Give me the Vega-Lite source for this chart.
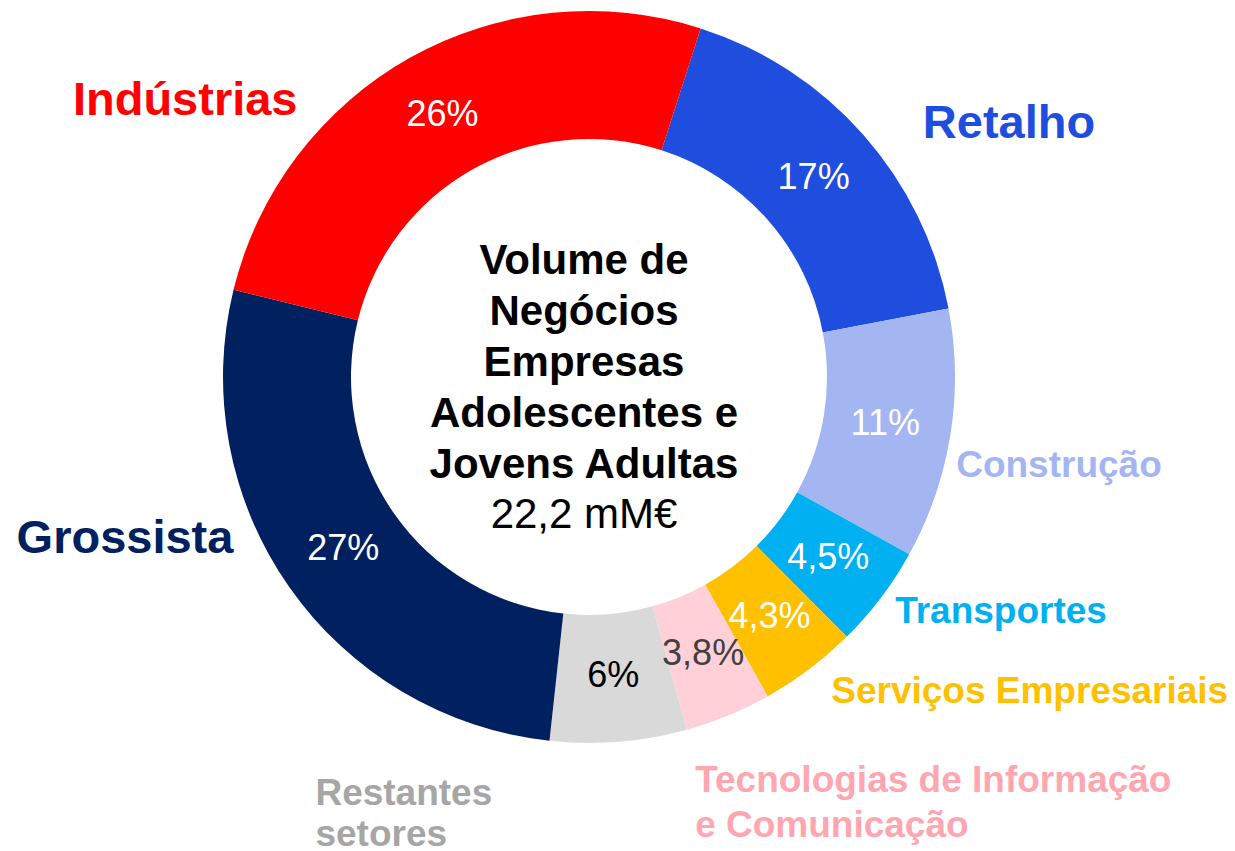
{
  "$schema": "https://vega.github.io/schema/vega-lite/v6.json",
  "width": 1178,
  "height": 754,
  "autosize": {"type": "none"},
  "padding": {"left": 0, "top": 0, "right": 57, "bottom": 97},
  "background": "white",
  "config": {
    "view": {"stroke": null},
    "font": "Liberation Sans",
    "locale": {"number": {"decimal": ",", "thousands": ".", "grouping": [3], "currency": ["", "€"]}}
  },
  "data": {
    "values": [
      {"idx": 1, "sector": "Retalho", "share": 0.17},
      {"idx": 2, "sector": "Construção", "share": 0.11},
      {"idx": 3, "sector": "Transportes", "share": 0.045},
      {"idx": 4, "sector": "Serviços Empresariais", "share": 0.043},
      {"idx": 5, "sector": "Tecnologias de Informação\ne Comunicação", "share": 0.038},
      {"idx": 6, "sector": "Restantes\nsetores", "share": 0.06},
      {"idx": 7, "sector": "Grossista", "share": 0.27},
      {"idx": 8, "sector": "Indústrias", "share": 0.26}
    ]
  },
  "layer": [
    {
      "mark": {"type": "arc", "radius": 366, "innerRadius": 238},
      "encoding": {
        "theta": {"field": "share", "type": "quantitative", "stack": true, "scale": {"range": [0.31, 6.5932]}},
        "order": {"field": "idx", "type": "quantitative"},
        "color": {
          "field": "sector", "type": "nominal", "legend": null,
          "scale": {
            "domain": ["Retalho", "Construção", "Transportes", "Serviços Empresariais", "Tecnologias de Informação\ne Comunicação", "Restantes\nsetores", "Grossista", "Indústrias"],
            "range": ["#1F4EDF", "#A3B6F2", "#00B0F0", "#FFC000", "#FFD0D8", "#D9D9D9", "#002060", "#FF0000"]
          }
        }
      }
    },
    {
      "mark": {"type": "text", "radius": 300, "fontSize": 36, "font": "Liberation Sans", "align": "center", "baseline": "middle"},
      "encoding": {
        "theta": {"field": "share", "type": "quantitative", "stack": true, "scale": {"range": [0.31, 6.5932]}},
        "order": {"field": "idx", "type": "quantitative"},
        "text": {"field": "share", "type": "quantitative", "format": ".1~%"},
        "color": {"condition": [{"test": "datum.idx === 6", "value": "#000000"}, {"test": "datum.idx === 5", "value": "#404040"}], "value": "#FFFFFF"}
      }
    },
    {
      "mark": {"type": "text", "radius": 400, "fontSize": 47, "fontWeight": "bold", "font": "Liberation Sans", "align": "center", "baseline": "alphabetic", "dx": 120.5, "dy": 26, "color": "#1F4EDF"},
      "encoding": {
        "theta": {"field": "share", "type": "quantitative", "stack": true, "scale": {"range": [0.31, 6.5932]}},
        "order": {"field": "idx", "type": "quantitative"},
        "text": {"condition": {"test": "datum.idx === 1", "field": "sector"}, "value": ""}
      }
    },
    {
      "mark": {"type": "text", "radius": 400, "fontSize": 37, "fontWeight": "bold", "font": "Liberation Sans", "align": "center", "baseline": "alphabetic", "dx": 75, "dy": 37, "color": "#A3B6F2"},
      "encoding": {
        "theta": {"field": "share", "type": "quantitative", "stack": true, "scale": {"range": [0.31, 6.5932]}},
        "order": {"field": "idx", "type": "quantitative"},
        "text": {"condition": {"test": "datum.idx === 2", "field": "sector"}, "value": ""}
      }
    },
    {
      "mark": {"type": "text", "radius": 400, "fontSize": 37, "fontWeight": "bold", "font": "Liberation Sans", "align": "center", "baseline": "alphabetic", "dx": 93, "dy": 5, "color": "#00B0F0"},
      "encoding": {
        "theta": {"field": "share", "type": "quantitative", "stack": true, "scale": {"range": [0.31, 6.5932]}},
        "order": {"field": "idx", "type": "quantitative"},
        "text": {"condition": {"test": "datum.idx === 3", "field": "sector"}, "value": ""}
      }
    },
    {
      "mark": {"type": "text", "radius": 400, "fontSize": 37, "fontWeight": "bold", "font": "Liberation Sans", "align": "center", "baseline": "alphabetic", "dx": 200, "dy": 7, "color": "#FFC000"},
      "encoding": {
        "theta": {"field": "share", "type": "quantitative", "stack": true, "scale": {"range": [0.31, 6.5932]}},
        "order": {"field": "idx", "type": "quantitative"},
        "text": {"condition": {"test": "datum.idx === 4", "field": "sector"}, "value": ""}
      }
    },
    {
      "mark": {"type": "text", "radius": 400, "fontSize": 37, "fontWeight": "bold", "font": "Liberation Sans", "align": "left", "baseline": "alphabetic", "dx": -46, "dy": 45, "lineBreak": "\n", "lineHeight": 45, "color": "#FFA6B1"},
      "encoding": {
        "theta": {"field": "share", "type": "quantitative", "stack": true, "scale": {"range": [0.31, 6.5932]}},
        "order": {"field": "idx", "type": "quantitative"},
        "text": {"condition": {"test": "datum.idx === 5", "field": "sector"}, "value": ""}
      }
    },
    {
      "mark": {"type": "text", "radius": 400, "fontSize": 37, "fontWeight": "bold", "font": "Liberation Sans", "align": "left", "baseline": "alphabetic", "dx": -306, "dy": 29, "lineBreak": "\n", "lineHeight": 41, "color": "#A6A6A6"},
      "encoding": {
        "theta": {"field": "share", "type": "quantitative", "stack": true, "scale": {"range": [0.31, 6.5932]}},
        "order": {"field": "idx", "type": "quantitative"},
        "text": {"condition": {"test": "datum.idx === 6", "field": "sector"}, "value": ""}
      }
    },
    {
      "mark": {"type": "text", "radius": 400, "fontSize": 47, "fontWeight": "bold", "font": "Liberation Sans", "align": "center", "baseline": "alphabetic", "dx": -136.4, "dy": -53.4, "color": "#002060"},
      "encoding": {
        "theta": {"field": "share", "type": "quantitative", "stack": true, "scale": {"range": [0.31, 6.5932]}},
        "order": {"field": "idx", "type": "quantitative"},
        "text": {"condition": {"test": "datum.idx === 7", "field": "sector"}, "value": ""}
      }
    },
    {
      "mark": {"type": "text", "radius": 400, "fontSize": 47, "fontWeight": "bold", "font": "Liberation Sans", "align": "center", "baseline": "alphabetic", "dx": -208.5, "dy": 87, "color": "#FF0000"},
      "encoding": {
        "theta": {"field": "share", "type": "quantitative", "stack": true, "scale": {"range": [0.31, 6.5932]}},
        "order": {"field": "idx", "type": "quantitative"},
        "text": {"condition": {"test": "datum.idx === 8", "field": "sector"}, "value": ""}
      }
    },
    {
      "data": {"values": [{"label": "centre"}]},
      "mark": {"type": "text", "text": ["Volume de", "Negócios", "Empresas", "Adolescentes e", "Jovens Adultas"], "fontSize": 42, "fontWeight": "bold", "font": "Liberation Sans", "lineHeight": 51, "align": "center", "baseline": "alphabetic", "dx": -5, "dy": -103, "color": "#000000"}
    },
    {
      "data": {"values": [{"label": "total"}]},
      "mark": {"type": "text", "text": "22,2 mM€", "fontSize": 42, "font": "Liberation Sans", "align": "center", "baseline": "alphabetic", "dx": -5, "dy": 151, "color": "#000000"}
    }
  ]
}
